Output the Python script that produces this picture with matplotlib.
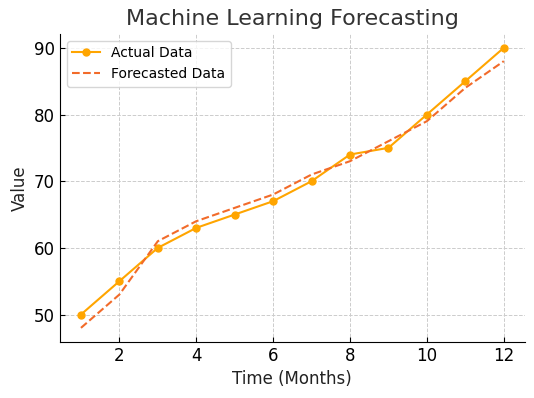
import matplotlib
matplotlib.use("Agg")
import matplotlib.pyplot as plt

# valeurs
mois = [1, 2, 3, 4, 5, 6, 7, 8, 9, 10, 11, 12]
reel = [50, 55, 60, 63, 65, 67, 70, 74, 75, 80, 85, 90]
prevu = [48, 53, 61, 64, 66, 68, 71, 73, 76, 79, 84, 88]

fig, ax = plt.subplots(figsize=(5.34, 3.98), dpi=100)

ax.plot(mois, reel, color="#FFA500", marker="o", markersize=5, linewidth=1.5,
        label="Actual Data")
ax.plot(mois, prevu, color="#F26B2A", linestyle="--", linewidth=1.5,
        label="Forecasted Data")

ax.set_title("Machine Learning Forecasting", fontsize=16, color="#333333")
ax.set_xlabel("Time (Months)", fontsize=12, color="#222222")
ax.set_ylabel("Value", fontsize=12, color="#222222")
ax.set_xticks([2, 4, 6, 8, 10, 12])
ax.set_yticks([50, 60, 70, 80, 90])
ax.tick_params(direction="in", labelsize=12)
ax.grid(True, linestyle="--", color="#CCCCCC", linewidth=0.7)
ax.spines["top"].set_visible(False)
ax.spines["right"].set_visible(False)
ax.legend(loc="upper left", fontsize=10)

fig.subplots_adjust(left=0.112, right=0.983, top=0.915, bottom=0.141)
fig.savefig("out.png", dpi=100)
